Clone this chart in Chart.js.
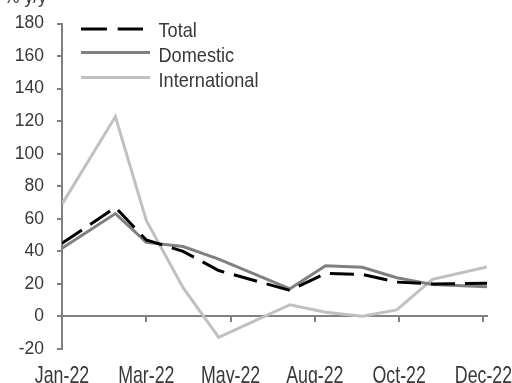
<!DOCTYPE html>
<html>
<head>
<meta charset="utf-8">
<script src="https://cdn.jsdelivr.net/npm/chart.js@4/dist/chart.umd.min.js"></script>
<style>
  html, body { margin: 0; padding: 0; background: #fff; overflow: hidden; }
  canvas { display: block; }
</style>
</head>
<body>
<canvas id="c" width="512" height="383"></canvas>
<script>
// Observation dates, as day offsets from 1 Jan 2022
const dayOffsets = [0, 45, 71, 102, 132, 192, 222, 253, 282, 312, 358];

// Year-on-year growth, %
const totalGrowth         = [44.9, 67.0, 47.0, 40.0, 28.2, 16.0, 26.4, 25.8, 21.1, 20.0, 20.4];
const domesticGrowth      = [41.9, 63.2, 45.5, 43.0, 35.2, 17.0, 31.2, 30.2, 23.8, 19.7, 18.3];
const internationalGrowth = [69.0, 122.8, 59.0, 17.7, -12.9, 7.2, 2.6, 0.2, 4.0, 22.8, 30.4];

const seriesNames = ['Total', 'Domestic', 'International'];

// Date-axis ticks (day offsets) and their labels
const tickDays   = [0, 71, 142, 213, 284, 355];
const tickLabels = ['Jan-22', 'Mar-22', 'May-22', 'Aug-22', 'Oct-22', 'Dec-22'];

const yTicks = { min: -20, max: 180, step: 20 };
const unitLabel = '% y/y';

const AXIS = '#808080';
const TEXT = '#383838';
const FAMILY = '"Liberation Sans", Arial, sans-serif';
const TICK_FONT = { family: FAMILY, size: 17.5 };

const toPoints = vals => vals.map((v, i) => ({ x: dayOffsets[i], y: v }));

// Text drawn in a condensed face: squeeze horizontally around the anchor
function condensedText(ctx, text, x, y, size, squeeze, align) {
  ctx.save();
  ctx.translate(x, y);
  ctx.scale(squeeze, 1);
  ctx.font = `${size}px ${FAMILY}`;
  ctx.textAlign = align;
  ctx.textBaseline = 'alphabetic';
  ctx.fillText(text, 0, 0);
  ctx.restore();
}

// Unit caption, date labels and in-plot legend
const overlay = {
  id: 'overlay',
  afterDraw(chart) {
    const ctx = chart.ctx;
    ctx.save();
    ctx.fillStyle = TEXT;
    ctx.textAlign = 'left';
    ctx.textBaseline = 'alphabetic';
    ctx.font = `${TICK_FONT.size}px ${FAMILY}`;
    ctx.fillText(unitLabel, 4, 3);

    // Date labels under the plot, positioned by the x scale
    const xs = chart.scales.x;
    tickDays.forEach((d, i) => {
      condensedText(ctx, tickLabels[i], xs.getPixelForValue(d), 383, 24, 0.74, 'center');
    });

    // Legend
    const lineRows = [29, 52.5, 77.5];
    const textBase = [36.7, 61.9, 87.2];
    chart.data.datasets.forEach((ds, i) => {
      const dash = (ds.borderDash || []).map(v => v * 1.08);
      ctx.beginPath();
      ctx.strokeStyle = ds.borderColor;
      ctx.lineWidth = ds.borderWidth;
      ctx.setLineDash(dash);
      ctx.moveTo(81, lineRows[i]);
      ctx.lineTo(dash.length ? 143 : 150, lineRows[i]);
      ctx.stroke();
      ctx.setLineDash([]);
      condensedText(ctx, ds.label, 158.5, textBase[i], 21, 0.865, 'left');
    });
    ctx.restore();
  }
};

const dateTicks = scale => { scale.ticks = tickDays.map(v => ({ value: v })); };

new Chart(document.getElementById('c'), {
  type: 'line',
  data: {
    datasets: [
      { label: seriesNames[0], data: toPoints(totalGrowth), borderColor: '#000000',
        borderWidth: 3, borderDash: [24, 10], pointRadius: 0, tension: 0 },
      { label: seriesNames[1], data: toPoints(domesticGrowth), borderColor: '#808080',
        borderWidth: 3, pointRadius: 0, tension: 0 },
      { label: seriesNames[2], data: toPoints(internationalGrowth), borderColor: '#c0c0c0',
        borderWidth: 3, pointRadius: 0, tension: 0 }
    ]
  },
  options: {
    responsive: false,
    animation: false,
    layout: { padding: { top: 18, right: 25, left: 0, bottom: 0 } },
    plugins: { legend: { display: false }, tooltip: { enabled: false } },
    scales: {
      x: {
        type: 'linear', position: 'bottom', min: 0, max: 358,
        afterBuildTicks: dateTicks,
        ticks: { display: false },
        grid: { display: false, drawTicks: false },
        border: { display: false },
        afterFit: s => { s.height = 34; s.paddingLeft = 0; s.paddingRight = 0; }
      },
      xZero: {
        type: 'linear', axis: 'x', position: { y: 0 }, min: 0, max: 358,
        afterBuildTicks: dateTicks,
        ticks: { display: false },
        grid: { drawOnChartArea: false, drawTicks: true, tickLength: 5, color: AXIS, lineWidth: 2 },
        border: { color: AXIS, width: 2 }
      },
      y: {
        min: yTicks.min, max: yTicks.max,
        ticks: { stepSize: yTicks.step, font: TICK_FONT, color: TEXT, padding: 13 },
        grid: { drawOnChartArea: false, drawTicks: true, tickLength: 5, color: AXIS, lineWidth: 2 },
        border: { color: AXIS, width: 2 },
        afterFit: s => { s.width = 62; }
      }
    }
  },
  plugins: [overlay]
});
</script>
</body>
</html>
